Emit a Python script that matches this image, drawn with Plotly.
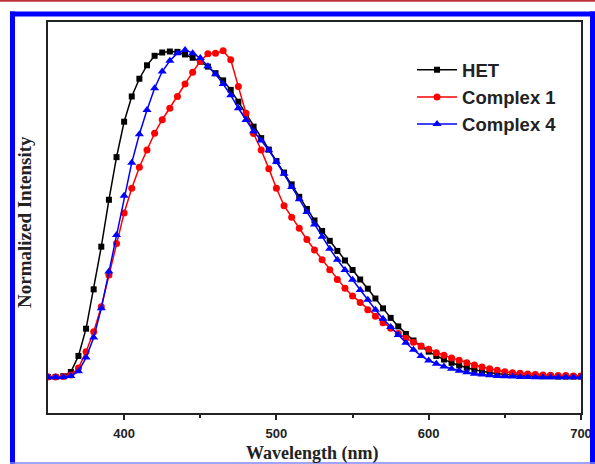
import plotly.graph_objects as go

wavelength = list(range(350, 701, 5))

het = [0.003, 0.003, 0.005, 0.018, 0.067, 0.150, 0.270, 0.400, 0.543, 0.673,
       0.781, 0.858, 0.912, 0.953, 0.982, 0.992, 0.995, 0.994, 0.986, 0.976,
       0.964, 0.949, 0.929, 0.907, 0.878, 0.842, 0.803, 0.766, 0.731, 0.696,
       0.661, 0.626, 0.590, 0.552, 0.515, 0.480, 0.448, 0.418, 0.387, 0.358,
       0.329, 0.300, 0.272, 0.242, 0.212, 0.183, 0.157, 0.134, 0.114, 0.096,
       0.080, 0.067, 0.056, 0.046, 0.038, 0.031, 0.025, 0.020, 0.016, 0.013,
       0.011, 0.009, 0.008, 0.007, 0.006, 0.005, 0.005, 0.004, 0.004, 0.004, 0.004]

complex1 = [0.003, 0.003, 0.004, 0.009, 0.030, 0.080, 0.141, 0.217, 0.314, 0.410,
            0.503, 0.578, 0.642, 0.695, 0.746, 0.787, 0.822, 0.858, 0.896, 0.932,
            0.965, 0.988, 0.990, 0.997, 0.970, 0.888, 0.807, 0.745, 0.695, 0.638,
            0.578, 0.525, 0.490, 0.456, 0.422, 0.390, 0.360, 0.330, 0.300, 0.273,
            0.250, 0.230, 0.208, 0.188, 0.168, 0.151, 0.135, 0.121, 0.109, 0.097,
            0.087, 0.077, 0.069, 0.061, 0.054, 0.046, 0.039, 0.033, 0.028, 0.023,
            0.019, 0.016, 0.014, 0.012, 0.010, 0.009, 0.008, 0.007, 0.007, 0.006, 0.006]

complex4 = [0.002, 0.002, 0.003, 0.006, 0.020, 0.062, 0.123, 0.212, 0.324, 0.436,
            0.555, 0.656, 0.743, 0.817, 0.883, 0.934, 0.967, 0.990, 1.000, 0.990,
            0.975, 0.950, 0.926, 0.896, 0.862, 0.822, 0.786, 0.752, 0.724, 0.694,
            0.659, 0.622, 0.582, 0.545, 0.506, 0.468, 0.430, 0.394, 0.360, 0.329,
            0.299, 0.268, 0.238, 0.208, 0.180, 0.155, 0.131, 0.107, 0.086, 0.067,
            0.053, 0.043, 0.035, 0.028, 0.022, 0.017, 0.013, 0.010, 0.008, 0.006,
            0.005, 0.004, 0.003, 0.003, 0.002, 0.002, 0.002, 0.002, 0.002, 0.002, 0.002]

x_ticks = [400, 500, 600, 700]
series_names = ["HET", "Complex 1", "Complex 4"]

W, H = 595, 464
L, R, T, B = 48, 14, 22, 51
pw, ph = W - L - R, H - T - B

def px(x):
    return (x - L) / pw

def py(y):
    return (H - B - y) / ph

fig = go.Figure()
styles = [("#000000", "square", 6), ("#ff0000", "circle", 7), ("#0000ff", "triangle-up", 8)]
for name, ys, (c, sym, sz) in zip(series_names, [het, complex1, complex4], styles):
    fig.add_trace(go.Scatter(
        x=wavelength, y=ys, name=name, mode="lines+markers",
        line=dict(color=c, width=1.5),
        marker=dict(color=c, symbol=sym, size=sz),
    ))

shapes = [
    dict(type="line", xref="paper", yref="paper", x0=px(0), x1=px(W), y0=py(0.8), y1=py(0.8),
         line=dict(color="#c0303a", width=2)),
    dict(type="line", xref="paper", yref="paper", x0=px(12.5), x1=px(12.5), y0=py(11.5), y1=py(H),
         line=dict(color="#0000ff", width=5)),
    dict(type="line", xref="paper", yref="paper", x0=px(10), x1=px(W), y0=py(14), y1=py(14),
         line=dict(color="#0000ff", width=5)),
    dict(type="line", xref="paper", yref="paper", x0=px(592.5), x1=px(592.5), y0=py(11.5), y1=py(H),
         line=dict(color="#0000ff", width=5)),
    dict(type="line", xref="paper", yref="paper", x0=px(10), x1=px(W), y0=py(463), y1=py(463),
         line=dict(color="#7f86ff", width=1.5)),
]

annotations = [
    dict(text="<b>Wavelength (nm)</b>", xref="paper", yref="paper", x=px(312), y=py(454),
         xanchor="center", yanchor="middle", showarrow=False,
         font=dict(family="Liberation Serif", size=18, color="#222")),
    dict(text="<b>Normalized Intensity</b>", xref="paper", yref="paper", x=px(25), y=py(222),
         xanchor="center", yanchor="middle", showarrow=False, textangle=-90,
         font=dict(family="Liberation Serif", size=19, color="#222")),
]

fig.update_layout(
    width=W, height=H,
    margin=dict(l=L, r=R, t=T, b=B, autoexpand=False),
    paper_bgcolor="white", plot_bgcolor="white",
    showlegend=True,
    legend=dict(x=0.683, y=0.925, xanchor="left", yanchor="top",
                bgcolor="rgba(0,0,0,0)", tracegroupgap=0, itemwidth=40,
                font=dict(family="Liberation Sans", size=18.5, color="#222", weight="bold")),
    shapes=shapes,
    annotations=annotations,
    xaxis=dict(range=[350, 700], tickvals=x_ticks, ticktext=[str(v) for v in x_ticks],
               automargin=False, ticklabelstandoff=3,
               ticks="outside", ticklen=5, tickwidth=1.5, tickcolor="#222",
               minor=dict(tickvals=[450, 550, 650], ticks="outside", ticklen=3, tickwidth=1.5, tickcolor="#222"),
               showline=True, linecolor="#222", linewidth=1.5, mirror=True,
               showgrid=False, zeroline=False,
               tickfont=dict(family="Liberation Sans", size=13, color="#222", weight="bold")),
    yaxis=dict(range=[-0.107, 1.085], showticklabels=False, ticks="",
               automargin=False,
               showline=True, linecolor="#222", linewidth=1.5, mirror=True,
               showgrid=False, zeroline=False),
)

fig.write_html("out.html", config={"displayModeBar": False},
               post_script="document.body.style.margin='0';document.body.style.overflow='hidden';")
